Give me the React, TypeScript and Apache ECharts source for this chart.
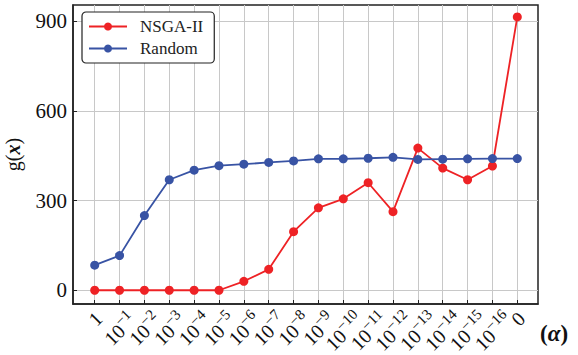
import React, { useEffect, useRef } from "react";
import * as echarts from "echarts";

const categories = ["1", "-1", "-2", "-3", "-4", "-5", "-6", "-7", "-8", "-9", "-10", "-11", "-12", "-13", "-14", "-15", "-16", "0"];
const nsgaValues = [0, 0, 0, 0, 0, 0, 30, 70, 196, 276, 306, 360, 263, 476, 409, 370, 416, 915];
const randomValues = [84, 116, 250, 370, 402, 417, 422, 428, 433, 440, 440, 442, 445, 438, 439, 440, 441, 441];
const yTicks = [0, 300, 600, 900];

const FONT = "'Liberation Serif', 'DejaVu Serif', serif";
const Y_MIN = -46;
const Y_MAX = 955;

const DATA_GRID = { left: 94.7, right: 60.7, top: 5, bottom: 51, show: false, outerBoundsMode: "none", containLabel: false };

const richLabel = {
  b: { fontSize: 20, fontFamily: FONT, color: "#111", verticalAlign: "bottom" },
  s: { fontSize: 15, fontFamily: FONT, color: "#111", verticalAlign: "top", padding: [0, 0, 9, 0] },
};

// label classes: 0 = plain ("1", "0"), 1 = one-digit exponent, 2 = two-digit exponent
const labelClass = (c: string) => (c === "1" || c === "0" ? 0 : c.length === 2 ? 1 : 2);

const makeLabelAxis = (gridIndex: number, cls: number, margin: number, padTop: number, main: boolean) => ({
  gridIndex,
  type: "category",
  data: categories,
  boundaryGap: false,
  axisLine: { show: false, onZero: false },
  axisTick: main
    ? { show: true, inside: true, length: 4, interval: 0, lineStyle: { color: "#222" } }
    : { show: false },
  splitLine: main
    ? { show: true, interval: 0, lineStyle: { color: "#c8c8c8", width: 1 } }
    : { show: false },
  axisLabel: {
    interval: 0,
    rotate: 45,
    margin,
    padding: [padTop, 0, 0, 0],
    color: "#111",
    fontFamily: FONT,
    formatter: (c: string) => {
      if (labelClass(c) !== cls) return "";
      if (cls === 0) return `{b|${c}}`;
      return `{b|10}{s|${c.replace("-", "−")}}`;
    },
    rich: richLabel,
  },
});

export default function App() {
  const ref = useRef<HTMLDivElement>(null);
  useEffect(() => {
    if (!ref.current) return;
    const chart = echarts.init(ref.current, undefined, { renderer: "svg" });
    chart.setOption({
      animation: false,
      textStyle: { fontFamily: FONT },
      grid: [
        {
          left: 73,
          right: 40,
          top: 5,
          bottom: 51,
          show: true,
          borderColor: "#222",
          borderWidth: 1.5,
          backgroundColor: "transparent",
          outerBoundsMode: "none",
          containLabel: false,
        },
        DATA_GRID,
        DATA_GRID,
        DATA_GRID,
      ],
      legend: {
        orient: "vertical",
        left: 82,
        top: 12,
        padding: [6, 11, 6, 6],
        itemWidth: 38,
        itemHeight: 10,
        itemGap: 5,
        borderColor: "#222",
        borderWidth: 1.2,
        borderRadius: 4,
        backgroundColor: "#fff",
        textStyle: { fontFamily: FONT, fontSize: 17, color: "#222", padding: [0, 0, 0, 8] },
        data: ["NSGA-II", "Random"],
        z: 10,
      },
      xAxis: [
        {
          gridIndex: 0,
          type: "value",
          min: 0,
          max: 1,
          show: true,
          axisLine: { show: true, onZero: false, lineStyle: { color: "#222", width: 1.5 } },
          axisTick: { show: false },
          axisLabel: { show: false },
          splitLine: { show: false },
        },
        makeLabelAxis(1, 0, 7, 12, true),
        makeLabelAxis(2, 1, -1, 34, false),
        makeLabelAxis(3, 2, -4, 42, false),
      ],
      yAxis: [
        {
          gridIndex: 0,
          type: "value",
          min: Y_MIN,
          max: Y_MAX,
          name: "{g|g}{p|(}{x|x}{p|)}",
          nameLocation: "middle",
          nameRotate: 90,
          nameGap: 50,
          nameTextStyle: {
            rich: {
              g: { fontSize: 20, fontFamily: FONT, color: "#111" },
              p: { fontSize: 20, fontFamily: FONT, color: "#111" },
              x: { fontSize: 20, fontFamily: FONT, fontWeight: "bold", fontStyle: "italic", color: "#111" },
            },
          },
          axisLine: { show: true, onZero: false, lineStyle: { color: "#222", width: 1.5 } },
          axisTick: { show: true, inside: true, length: 4, customValues: yTicks, lineStyle: { color: "#222" } },
          splitLine: { show: true, lineStyle: { color: "#c8c8c8", width: 1 } },
          axisLabel: {
            customValues: yTicks,
            margin: 6,
            fontSize: 21,
            fontFamily: FONT,
            color: "#111",
          },
        },
        { gridIndex: 1, type: "value", min: Y_MIN, max: Y_MAX, show: false, splitLine: { show: false } },
        { gridIndex: 2, type: "value", min: Y_MIN, max: Y_MAX, show: false, splitLine: { show: false } },
        { gridIndex: 3, type: "value", min: Y_MIN, max: Y_MAX, show: false, splitLine: { show: false } },
      ],
      series: [
        {
          name: "NSGA-II",
          type: "line",
          xAxisIndex: 1,
          yAxisIndex: 1,
          data: nsgaValues,
          symbol: "circle",
          symbolSize: 9,
          color: "#EE2225",
          lineStyle: { width: 1.8, color: "#EE2225" },
          itemStyle: { color: "#EE2225" },
        },
        {
          name: "Random",
          type: "line",
          xAxisIndex: 1,
          yAxisIndex: 1,
          data: randomValues,
          symbol: "circle",
          symbolSize: 9,
          color: "#3853A4",
          lineStyle: { width: 1.8, color: "#3853A4" },
          itemStyle: { color: "#3853A4" },
        },
      ],
      graphic: [
        {
          type: "text",
          left: 540,
          top: 322,
          style: {
            text: "{p|(}{a|α}{p|)}",
            rich: {
              p: { fontSize: 23, fontWeight: "bold", fontFamily: FONT, fill: "#111" },
              a: { fontSize: 23, fontWeight: "bold", fontStyle: "italic", fontFamily: FONT, fill: "#111" },
            },
          },
        },
      ],
    });
    return () => chart.dispose();
  }, []);
  return <div ref={ref} style={{ width: 578, height: 355, position: "absolute", left: 0, top: 0 }} />;
}
